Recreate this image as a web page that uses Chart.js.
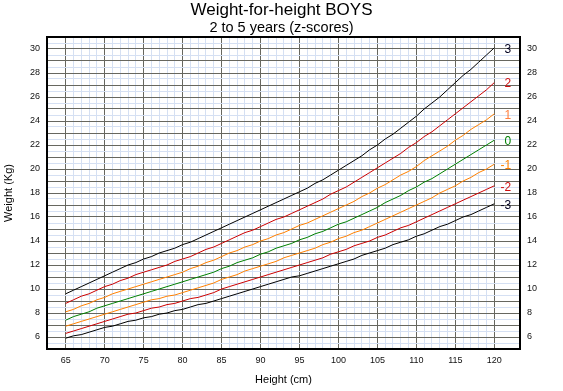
<!DOCTYPE html>
<html><head><meta charset="utf-8">
<script src="https://cdn.jsdelivr.net/npm/chart.js@4.4.0/dist/chart.umd.min.js"></script>
<style>html,body{margin:0;padding:0;background:#fff}#wrap{width:563px;height:391px}</style>
</head><body><div id="wrap"><canvas id="c" width="563" height="391"></canvas></div>
<script>
const heights = [65,66,67,68,69,70,71,72,73,74,75,76,77,78,79,80,81,82,83,84,85,86,87,88,89,90,91,92,93,94,95,96,97,98,99,100,101,102,103,104,105,106,107,108,109,110,111,112,113,114,115,116,117,118,119,120];
const sdPos3 = [9.6,9.9,10.2,10.5,10.8,11.1,11.4,11.7,12.0,12.2,12.5,12.7,13.0,13.2,13.4,13.7,13.9,14.2,14.5,14.8,15.1,15.4,15.7,16.0,16.3,16.6,16.9,17.2,17.5,17.8,18.1,18.4,18.8,19.1,19.5,19.9,20.3,20.7,21.1,21.6,22.0,22.5,22.9,23.4,23.9,24.4,25.0,25.5,26.0,26.6,27.2,27.8,28.3,28.9,29.5,30.1];
const sdPos2 = [8.8,9.1,9.4,9.6,9.9,10.2,10.4,10.7,10.9,11.2,11.4,11.6,11.8,12.0,12.3,12.5,12.7,13.0,13.3,13.5,13.8,14.1,14.4,14.7,14.9,15.2,15.5,15.8,16.0,16.3,16.6,16.9,17.2,17.5,17.9,18.2,18.5,18.9,19.3,19.7,20.1,20.5,20.9,21.3,21.8,22.2,22.7,23.1,23.6,24.1,24.6,25.1,25.6,26.1,26.6,27.2];
const sdPos1 = [8.1,8.3,8.6,8.8,9.1,9.3,9.6,9.8,10.0,10.2,10.4,10.6,10.8,11.0,11.2,11.4,11.7,11.9,12.2,12.4,12.7,13.0,13.2,13.5,13.7,14.0,14.2,14.5,14.7,15.0,15.3,15.5,15.8,16.1,16.4,16.7,17.0,17.3,17.7,18.0,18.4,18.7,19.1,19.5,19.8,20.2,20.7,21.1,21.5,21.9,22.4,22.8,23.3,23.7,24.1,24.6];
const median = [7.4,7.7,7.9,8.1,8.4,8.6,8.8,9.0,9.2,9.4,9.6,9.8,10.0,10.2,10.4,10.6,10.8,11.0,11.2,11.4,11.7,11.9,12.2,12.4,12.6,12.9,13.1,13.4,13.6,13.8,14.1,14.3,14.6,14.8,15.1,15.4,15.6,15.9,16.2,16.5,16.8,17.2,17.5,17.8,18.2,18.5,18.9,19.2,19.6,20.0,20.4,20.8,21.2,21.6,22.0,22.4];
const sdNeg1 = [6.9,7.1,7.3,7.5,7.7,7.9,8.1,8.3,8.5,8.7,8.9,9.1,9.2,9.4,9.5,9.7,9.9,10.1,10.3,10.5,10.8,11.0,11.2,11.5,11.7,11.9,12.1,12.3,12.6,12.8,13.0,13.2,13.4,13.7,13.9,14.2,14.4,14.7,14.9,15.2,15.5,15.8,16.1,16.4,16.7,17.0,17.3,17.6,18.0,18.3,18.6,19.0,19.3,19.7,20.0,20.4];
const sdNeg2 = [6.3,6.5,6.7,6.9,7.1,7.3,7.5,7.7,7.9,8.0,8.2,8.4,8.5,8.7,8.8,9.0,9.2,9.3,9.5,9.7,10.0,10.2,10.4,10.6,10.8,11.0,11.2,11.4,11.6,11.8,12.0,12.2,12.4,12.6,12.9,13.1,13.3,13.6,13.8,14.0,14.3,14.5,14.8,15.1,15.3,15.6,15.9,16.2,16.5,16.8,17.1,17.4,17.7,18.0,18.3,18.6];
const sdNeg3 = [5.9,6.1,6.2,6.4,6.6,6.8,6.9,7.1,7.3,7.4,7.6,7.7,7.9,8.0,8.2,8.3,8.5,8.7,8.8,9.0,9.2,9.4,9.6,9.8,10.0,10.2,10.4,10.6,10.8,11.0,11.1,11.3,11.5,11.7,11.9,12.1,12.3,12.5,12.8,13.0,13.2,13.4,13.7,13.9,14.1,14.4,14.6,14.9,15.2,15.4,15.7,16.0,16.2,16.5,16.8,17.1];
const zLabels = ['3','2','1','0','-1','-2','-3'];
const xLabelTicks = [65,70,75,80,85,90,95,100,105,110,115,120];
const yLabelTicks = [6,8,10,12,14,16,18,20,22,24,26,28,30];

const seriesList = [sdPos3, sdPos2, sdPos1, median, sdNeg1, sdNeg2, sdNeg3];
const lineColors = ['#000000','#cc0000','#ff8000','#008000','#ff8000','#cc0000','#000000'];
const labelColors = ['#000020','#d01010','#ff8040','#008000','#ff8000','#d01010','#000020'];
const FONT = '"Liberation Sans", Arial, sans-serif';
const MAJOR = '#67675f';
const MINOR = '#d5e0f3';

const datasets = seriesList.map((s, i) => ({
  label: zLabels[i],
  data: heights.map((h, j) => ({x: h, y: s[j]})),
  borderColor: lineColors[i],
  borderWidth: 1,
  pointRadius: 0,
  tension: 0,
  fill: false,
  yAxisID: 'y'
}));

function yTicks(scale) {
  const t = [];
  for (let v = 5; v <= 31.001; v += 0.5) t.push({value: Math.round(v * 2) / 2});
  scale.ticks = t;
}
function yLabel(v) { return yLabelTicks.includes(v) ? String(v) : ''; }

const zLabelPlugin = {
  id: 'zlabels',
  afterDatasetsDraw(chart) {
    const ctx = chart.ctx;
    ctx.save();
    ctx.font = '12px ' + FONT;
    ctx.textAlign = 'right';
    ctx.textBaseline = 'middle';
    chart.data.datasets.forEach((ds, i) => {
      const meta = chart.getDatasetMeta(i);
      const p = meta.data[meta.data.length - 1];
      ctx.fillStyle = labelColors[i];
      ctx.fillText(zLabels[i], p.x + 17, p.y + 1.5);
    });
    ctx.restore();
  }
};

new Chart(document.getElementById('c'), {
  type: 'line',
  data: { datasets },
  plugins: [zLabelPlugin],
  options: {
    responsive: false,
    animation: false,
    devicePixelRatio: 1,
    layout: { padding: 0 },
    plugins: {
      legend: { display: false },
      tooltip: { enabled: false },
      title: {
        display: true, text: 'Weight-for-height BOYS', color: '#000',
        font: { family: FONT, size: 17, weight: 'normal', lineHeight: 1.0 },
        padding: { top: 2, bottom: 0 }
      },
      subtitle: {
        display: true, text: '2 to 5 years (z-scores)', color: '#000',
        font: { family: FONT, size: 14.5, weight: 'normal', lineHeight: 1.2 },
        padding: { top: 0, bottom: 0.6 }
      }
    },
    scales: {
      x: {
        type: 'linear', min: 62.6, max: 123.3,
        afterBuildTicks: (scale) => {
          const t = [];
          for (let v = 65; v <= 120; v++) t.push({value: v});
          scale.ticks = t;
        },
        afterFit: (scale) => { scale.height = 42; },
        ticks: {
          autoSkip: false, maxRotation: 0, padding: 6, color: '#111',
          font: { family: FONT, size: 9 },
          callback: (v) => xLabelTicks.includes(v) ? String(v) : ''
        },
        grid: {
          drawTicks: false,
          color: (c) => (c.tick && c.tick.value % 5 === 0) ? MAJOR : MINOR,
          lineWidth: 1
        },
        border: { display: true, color: '#000', width: 2 },
        title: {
          display: true, text: 'Height (cm)', color: '#000',
          font: { family: FONT, size: 11 }, padding: { top: 0, bottom: 4 }
        }
      },
      y: {
        type: 'linear', position: 'left', min: 5, max: 31,
        afterBuildTicks: yTicks,
        afterFit: (scale) => { scale.width = 47; },
        ticks: {
          autoSkip: false, padding: 7, color: '#111',
          font: { family: FONT, size: 9 },
          callback: yLabel
        },
        grid: {
          drawTicks: false,
          color: (c) => {
            const v = c.tick ? c.tick.value : 0;
            if (v === 31) return '#000';
            return Number.isInteger(v) ? MAJOR : MINOR;
          },
          lineWidth: (c) => (c.tick && c.tick.value === 31) ? 2 : 1
        },
        border: { display: true, color: '#000', width: 2 },
        title: {
          display: true, text: 'Weight (Kg)', color: '#000',
          font: { family: FONT, size: 11 }, padding: { top: 2, bottom: 0 }
        }
      },
      y2: {
        type: 'linear', position: 'right', min: 5, max: 31, display: true,
        afterBuildTicks: yTicks,
        afterFit: (scale) => { scale.width = 43; },
        ticks: {
          autoSkip: false, padding: 7, color: '#111',
          font: { family: FONT, size: 9 },
          callback: yLabel
        },
        grid: { display: false, drawTicks: false },
        border: { display: true, color: '#000', width: 2 }
      }
    }
  }
});
</script>
</body></html>
